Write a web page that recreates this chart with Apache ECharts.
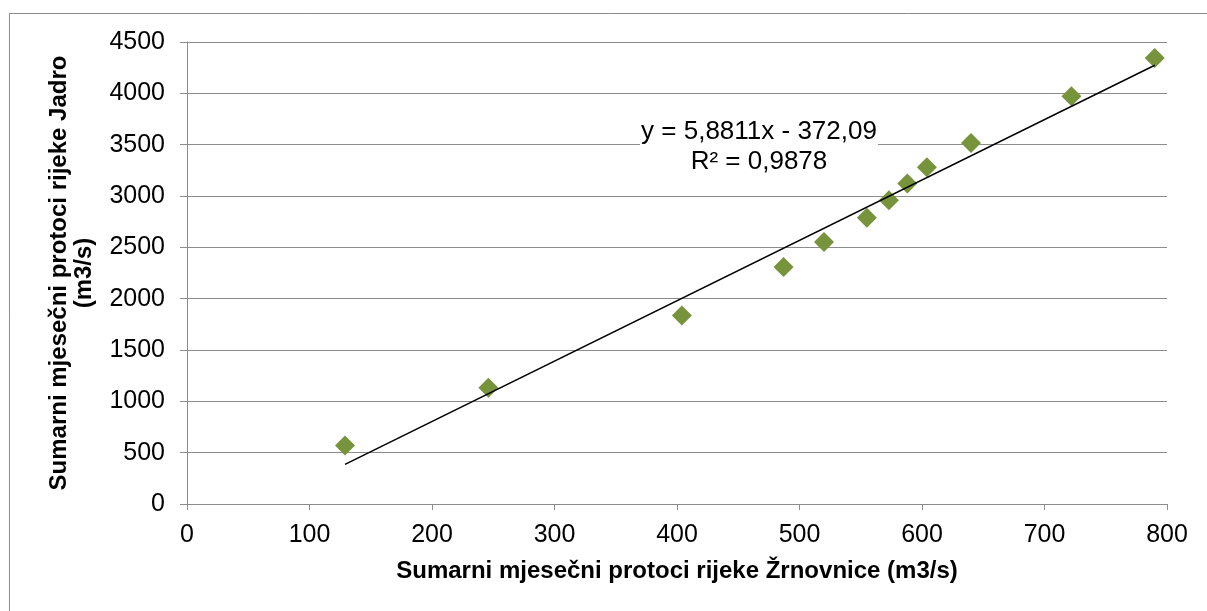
<!DOCTYPE html>
<html lang="hr">
<head>
    <meta charset="UTF-8">
    <title>Jadro - Žrnovnica</title>
    <script src="https://cdn.jsdelivr.net/npm/echarts@6/dist/echarts.min.js"></script>
    <style>
        html, body { margin: 0; padding: 0; background: #fff; }
    </style>
</head>
<body>
<div id="chartBox" style="width: 1207px; height: 611px;"></div>
<script>
    // sumarni mjesečni protoci (m3/s)
    var zrnovnica = [129, 246, 404, 487, 520, 555, 573, 588, 604, 640, 722, 790];
    var jadro = [570, 1133, 1837, 2308, 2552, 2789, 2958, 3121, 3280, 3517, 3972, 4345];

    // linearni trend kako ga je izračunao Excel
    var slope = 5.8811;
    var intercept = -372.09;
    var trendText = 'y = 5,8811x - 372,09\nR² = 0,9878';

    var points = [];
    for (var i = 0; i < zrnovnica.length; i++) {
        points.push([zrnovnica[i], jadro[i]]);
    }
    var xMin = Math.min.apply(null, zrnovnica);
    var xMax = Math.max.apply(null, zrnovnica);
    var trend = [[xMin, slope * xMin + intercept], [xMax, slope * xMax + intercept]];

    var font = '"Liberation Sans", Arial, sans-serif';
    var gridColor = '#8c8c8c';

    var chart = echarts.init(document.getElementById('chartBox'));
    chart.setOption({
        animation: false,
        textStyle: { fontFamily: font },
        grid: { left: 187, right: 40, top: 42, bottom: 107 },
        xAxis: {
            type: 'value',
            min: 0, max: 800, interval: 100,
            name: 'Sumarni mjesečni protoci rijeke Žrnovnice (m3/s)',
            nameLocation: 'middle',
            nameGap: 55,
            nameTextStyle: { fontSize: 24, fontWeight: 'bold', color: '#000', fontFamily: font },
            axisLine: { lineStyle: { color: gridColor, width: 1 } },
            axisTick: { show: true, inside: false, length: 6, lineStyle: { color: gridColor } },
            axisLabel: { fontSize: 25, color: '#000', margin: 19, fontFamily: font },
            splitLine: { show: false }
        },
        yAxis: {
            type: 'value',
            min: 0, max: 4500, interval: 500,
            name: 'Sumarni mjesečni protoci rijeke Jadro\n(m3/s)',
            nameLocation: 'middle',
            nameRotate: 90,
            nameGap: 90,
            nameTextStyle: { fontSize: 24, fontWeight: 'bold', color: '#000', fontFamily: font, lineHeight: 25, align: 'center' },
            axisLine: { show: true, lineStyle: { color: gridColor, width: 1 } },
            axisTick: { show: true, inside: false, length: 7, lineStyle: { color: gridColor } },
            axisLabel: {
                fontSize: 25, color: '#000', margin: 22, fontFamily: font,
                formatter: function (v) { return String(v); }
            },
            splitLine: { show: true, lineStyle: { color: gridColor, width: 1 } }
        },
        graphic: [
            {
                type: 'rect',
                shape: { x: 9.5, y: 13.5, width: 1250, height: 650 },
                style: { fill: 'none', stroke: '#8c8c8c', lineWidth: 1 },
                silent: true, z: -10
            },
            {
                type: 'text',
                x: 759,
                y: 117,
                style: {
                    text: trendText,
                    font: '26px ' + font,
                    fill: '#000',
                    textAlign: 'center',
                    textVerticalAlign: 'top',
                    lineHeight: 30,
                    backgroundColor: '#fff',
                    padding: [0, 1]
                },
                z: 10
            }
        ],
        series: [
            {
                name: 'Jadro',
                type: 'scatter',
                data: points,
                symbol: 'diamond',
                symbolSize: [20, 20],
                itemStyle: { color: '#77933c', opacity: 1 },
                z: 3
            },
            {
                name: 'Linearni trend',
                type: 'line',
                data: trend,
                symbol: 'none',
                lineStyle: { color: '#000', width: 1.5 },
                z: 4
            }
        ]
    });
</script>
</body>
</html>
